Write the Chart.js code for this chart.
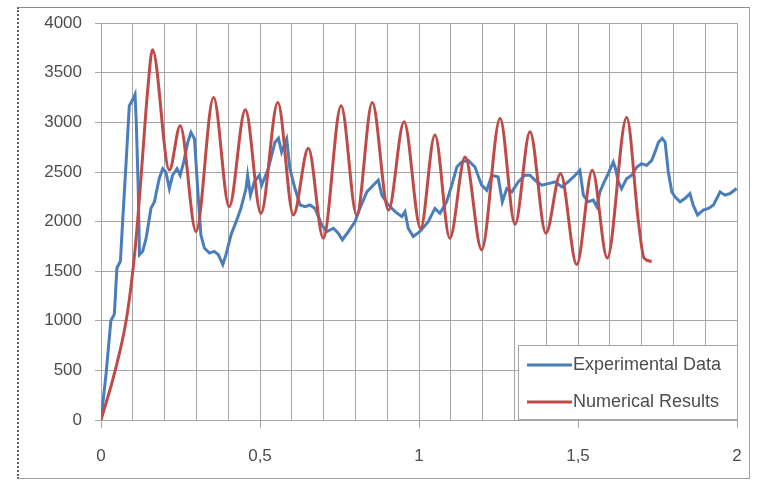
<!DOCTYPE html>
<html lang="en">

<head>
    <meta charset="UTF-8">
    <title>Experimental vs Numerical</title>
    <script src="https://cdn.jsdelivr.net/npm/chart.js"></script>
    <style>
        body {
            margin: 0;
            padding: 0;
            background: #fff;
        }

        .frame {
            position: absolute;
            left: 17px;
            top: 7px;
            width: 730px;
            height: 470px;
            border: 1px solid #a0a0a0;
            border-top-color: #8a8a8a;
            border-left: 2px dotted #606060;
        }

        #chart {
            position: absolute;
            left: 0;
            top: 0;
        }
    </style>
</head>

<body>
    <div class="frame"></div>
    <canvas id="chart" width="761" height="481"></canvas>

    <script>
        // measured series (x, value)
        const expX = [0, 0.016, 0.031, 0.042, 0.050, 0.061, 0.068, 0.079, 0.089, 0.100, 0.107, 0.111, 0.117, 0.121,
            0.131, 0.142, 0.157, 0.168, 0.183, 0.194, 0.204, 0.215, 0.225, 0.239, 0.249, 0.260, 0.273, 0.283,
            0.294, 0.304, 0.314, 0.325, 0.341, 0.356, 0.369, 0.383, 0.393, 0.409, 0.425, 0.440, 0.456, 0.461,
            0.470, 0.482, 0.498, 0.505, 0.526, 0.547, 0.558, 0.568, 0.584, 0.594, 0.610, 0.626, 0.642, 0.657,
            0.673, 0.694, 0.710, 0.731, 0.746, 0.759, 0.778, 0.799, 0.814, 0.836, 0.856, 0.872, 0.883, 0.904,
            0.925, 0.946, 0.956, 0.966, 0.982, 1.003, 1.029, 1.050, 1.066, 1.087, 1.103, 1.119, 1.134, 1.155,
            1.176, 1.197, 1.213, 1.229, 1.249, 1.262, 1.276, 1.292, 1.312, 1.333, 1.349, 1.365, 1.386, 1.407,
            1.428, 1.449, 1.469, 1.491, 1.506, 1.517, 1.532, 1.548, 1.559, 1.569, 1.580, 1.595, 1.611, 1.618,
            1.627, 1.637, 1.653, 1.669, 1.685, 1.700, 1.716, 1.732, 1.742, 1.753, 1.765, 1.774, 1.784, 1.795,
            1.805, 1.821, 1.836, 1.852, 1.862, 1.876, 1.894, 1.910, 1.926, 1.947, 1.962, 1.978, 1.999];
        const expY = [0, 467, 1000, 1067, 1533, 1600, 2000, 2600, 3167, 3233, 3283, 3000, 2333, 1667,
            1700, 1833, 2133, 2200, 2433, 2533, 2500, 2333, 2467, 2533, 2467, 2600, 2800, 2900,
            2833, 2333, 1867, 1733, 1683, 1700, 1667, 1567, 1667, 1867, 2000, 2133, 2333, 2467,
            2267, 2400, 2467, 2367, 2533, 2800, 2840, 2700, 2833, 2533, 2333, 2167, 2150, 2167,
            2133, 1967, 1900, 1933, 1883, 1817, 1900, 2000, 2133, 2300, 2367, 2417, 2267, 2167,
            2100, 2050, 2100, 1933, 1850, 1900, 2000, 2133, 2083, 2200, 2367, 2550, 2600, 2617,
            2550, 2367, 2317, 2467, 2450, 2200, 2333, 2300, 2400, 2467, 2467, 2417, 2367, 2383,
            2400, 2350, 2400, 2467, 2517, 2267, 2200, 2217, 2150, 2300, 2383, 2483, 2600, 2533,
            2400, 2333, 2433, 2467, 2550, 2583, 2567, 2617, 2700, 2800, 2840, 2800, 2500, 2300,
            2250, 2200, 2233, 2283, 2167, 2067, 2117, 2133, 2167, 2300, 2267, 2283, 2333];

        // simulation output (x, value)
        const numX = [0, 0.042, 0.079, 0.100, 0.115, 0.131, 0.147, 0.162, 0.215, 0.249, 0.299, 0.354, 0.403,
            0.454, 0.503, 0.556, 0.605, 0.652, 0.699, 0.755, 0.804, 0.853, 0.904, 0.953, 1.005, 1.050,
            1.097, 1.145, 1.197, 1.255, 1.302, 1.349, 1.399, 1.445, 1.496, 1.545, 1.592, 1.653, 1.690,
            1.708, 1.732];
        const numY = [0, 467, 1000, 1500, 2000, 2667, 3333, 3733, 2520, 2967, 1900, 3250, 2150,
            3127, 2083, 3200, 2067, 2740, 1833, 3167, 2067, 3200, 2117, 3007, 1933, 2873,
            1833, 2650, 1717, 3040, 1973, 2907, 1883, 2483, 1567, 2517, 1633, 3050, 2000,
            1630, 1600];

        const seriesNames = ['Experimental Data', 'Numerical Results'];
        const xTickLabels = ['0', '0,5', '1', '1,5', '2'];
        const yTicks = [0, 500, 1000, 1500, 2000, 2500, 3000, 3500, 4000];

        const gridGray = '#a6a6a6';
        const textGray = '#4d4d4d';
        const font = { family: '"Liberation Sans", Arial, sans-serif', size: 17 };

        const toPoints = (xs, ys) => xs.map((x, i) => ({ x: x, y: ys[i] }));
        const isMajor = v => Math.round(v * 10) % 5 === 0;

        // legend box in the lower right corner of the plot
        const boxLegend = {
            id: 'boxLegend',
            afterDraw(chart) {
                const { ctx, chartArea } = chart;
                const w = 220, h = 75;
                const left = chartArea.right + 1 - w;
                const top = chartArea.bottom - h;
                ctx.save();
                ctx.fillStyle = '#fff';
                ctx.fillRect(left, top, w, h);
                ctx.strokeStyle = gridGray;
                ctx.lineWidth = 1;
                ctx.strokeRect(left + 0.5, top + 0.5, w - 1, h - 1);
                ctx.font = '18px "Liberation Sans", Arial, sans-serif';
                ctx.textBaseline = 'middle';
                chart.data.datasets.forEach((ds, i) => {
                    const y = top + 20 + i * 37;
                    ctx.strokeStyle = ds.borderColor;
                    ctx.lineWidth = 3;
                    ctx.beginPath();
                    ctx.moveTo(left + 9, y);
                    ctx.lineTo(left + 54, y);
                    ctx.stroke();
                    ctx.fillStyle = textGray;
                    ctx.fillText(ds.label, left + 55, y);
                });
                ctx.restore();
            }
        };

        new Chart(document.getElementById('chart'), {
            type: 'line',
            data: {
                datasets: [{
                    label: seriesNames[0],
                    data: toPoints(expX, expY),
                    borderColor: '#4a7ebb',
                    borderWidth: 3,
                    pointRadius: 0,
                    tension: 0,
                    order: 1
                }, {
                    label: seriesNames[1],
                    data: toPoints(numX, numY),
                    borderColor: '#be4b48',
                    borderWidth: 3,
                    pointRadius: 0,
                    cubicInterpolationMode: 'monotone',
                    order: 0
                }]
            },
            options: {
                responsive: false,
                animation: false,
                layout: { padding: { top: 20, right: 24, left: 0, bottom: 0 } },
                plugins: {
                    legend: { display: false },
                    tooltip: { enabled: false }
                },
                scales: {
                    x: {
                        type: 'linear',
                        min: 0,
                        max: 2,
                        afterFit: s => { s.height = 61; },
                        ticks: {
                            stepSize: 0.1,
                            autoSkip: false,
                            maxRotation: 0,
                            padding: 18,
                            color: textGray,
                            font: font,
                            callback: v => isMajor(v) ? xTickLabels[Math.round(v * 2)] : ''
                        },
                        grid: {
                            color: gridGray,
                            tickLength: 8,
                            tickColor: c => isMajor(c.tick.value) ? gridGray : 'rgba(0,0,0,0)'
                        },
                        border: { color: gridGray }
                    },
                    y: {
                        min: 0,
                        max: 4000,
                        afterFit: s => { s.width = 101; },
                        afterBuildTicks: s => { s.ticks = yTicks.map(v => ({ value: v })); },
                        ticks: {
                            padding: 13,
                            color: textGray,
                            font: font,
                            callback: v => String(v)
                        },
                        grid: { color: gridGray, tickLength: 6 },
                        border: { color: gridGray }
                    }
                }
            },
            plugins: [boxLegend]
        });
    </script>
</body>

</html>
